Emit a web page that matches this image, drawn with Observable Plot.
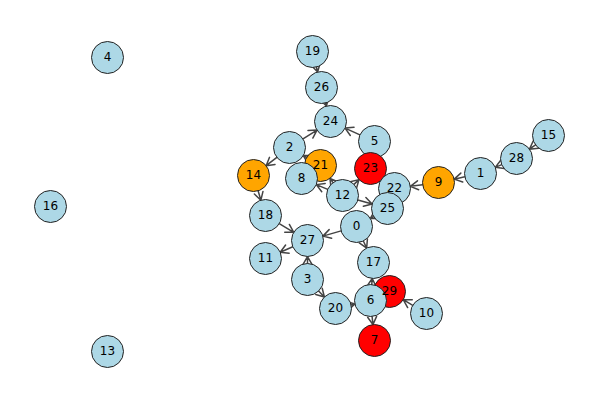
<!DOCTYPE html>
<html><head><meta charset="utf-8">
<script src="https://cdn.jsdelivr.net/npm/d3@7"></script>
<script src="https://cdn.jsdelivr.net/npm/@observablehq/plot@0.6"></script>
<style>body{margin:0;background:#fff}</style>
</head><body><div id="chart"></div>
<script>
const nodeIds = [4,16,13,19,26,24,5,2,21,23,14,8,12,22,25,9,1,28,15,18,0,27,11,17,3,29,6,20,10,7];
const nodeX = [107,50,107,312,321,330,374,289,320,370,253,301,342,394,387,438,480,516,548,265,356,307,265,373,307,389,370,335,426,374];
const nodeY = [57,206,351,51,87,121,141,147,165,168,175,178,195,188,208,182,173,158,135,215,226,240,258,262,279,291,300,308,313,340];
const red = [23,29,7];
const orange = [14,21,9];
const edgeFrom = [19,26,5,2,2,21,12,12,12,12,5,23,9,1,28,15,25,0,0,18,14,27,3,3,20,6,10,6];
const edgeTo   = [26,24,24,24,14,2,8,21,23,25,23,22,22,9,1,28,0,27,17,27,18,11,27,20,6,17,29,7];

const pos = new Map(nodeIds.map((id, i) => [id, {x: nodeX[i], y: nodeY[i]}]));
const nodes = nodeIds.map((id, i) => ({id, x: nodeX[i], y: nodeY[i],
  fill: red.includes(id) ? "red" : orange.includes(id) ? "orange" : "lightblue"}));
const edges = edgeFrom.map((s, i) => {
  const a = pos.get(s), b = pos.get(edgeTo[i]);
  return {x1: a.x, y1: a.y, x2: b.x, y2: b.y};
});

const chart = Plot.plot({
  width: 600, height: 400,
  margin: 0,
  x: {domain: [0, 600], axis: null},
  y: {domain: [0, 400], range: [0, 400], axis: null},
  marks: [
    Plot.arrow(edges, {x1: "x1", y1: "y1", x2: "x2", y2: "y2", stroke: "#444",
      strokeWidth: 1.5, headLength: 9, insetEnd: 16, insetStart: 16}),
    Plot.dot(nodes, {x: "x", y: "y", r: 16, fill: "fill", stroke: "#222", strokeWidth: 1}),
    Plot.text(nodes, {x: "x", y: "y", text: "id", fontSize: 12, fill: "black",
      fontFamily: "DejaVu Sans"})
  ]
});
document.getElementById("chart").replaceChildren(chart);
</script></body></html>
